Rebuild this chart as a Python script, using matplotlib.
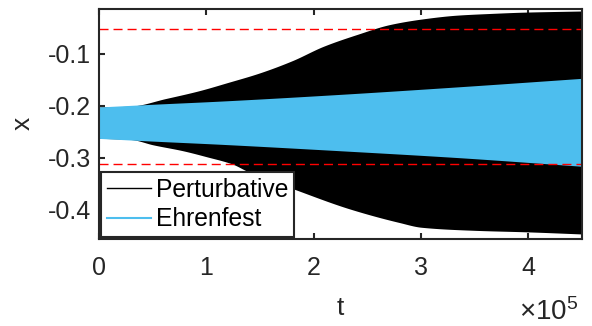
import matplotlib
matplotlib.use("Agg")
import matplotlib.pyplot as plt
from matplotlib.lines import Line2D
import numpy as np

# ---- data ----
# time axis in units of 1e5
t_pert_up = [0, 0.30, 0.62, 0.93, 1.20, 1.49, 1.80, 2.09, 2.40, 2.71, 3.02, 3.33, 3.64, 3.95, 4.5]
pert_up = [-0.2025, -0.2005, -0.186, -0.1710, -0.155, -0.137, -0.113, -0.0853, -0.0627,
           -0.0433, -0.0323, -0.0253, -0.022, -0.0195, -0.0172]
t_pert_lo = [0, 0.30, 0.50, 0.78, 1.00, 1.24, 1.40, 1.81, 2.34, 2.80, 3.00, 3.50, 4.00, 4.5]
pert_lo = [-0.2625, -0.2650, -0.2750, -0.2865, -0.298, -0.312, -0.328, -0.360, -0.399,
           -0.425, -0.434, -0.440, -0.443, -0.447]
t_ehr = [0, 0.5, 1.12, 2.24, 3.36, 4.5]
ehr_up = [-0.2022, -0.197, -0.191, -0.178, -0.1632, -0.147]
ehr_lo = [-0.2628, -0.268, -0.274, -0.2865, -0.300, -0.3165]
ref_levels = [-0.052, -0.3115]
labels = ["Perturbative", "Ehrenfest"]
xticks = [0, 1, 2, 3, 4]
yticks = [-0.4, -0.3, -0.2, -0.1]


def pchip(x, y, xn):
    """Monotone cubic (Fritsch-Carlson) curve through the read points."""
    x = np.asarray(x, float)
    y = np.asarray(y, float)
    h = np.diff(x)
    d = np.diff(y) / h
    m = np.zeros_like(y)
    for k in range(1, len(x) - 1):
        if d[k - 1] * d[k] > 0:
            w1 = 2 * h[k] + h[k - 1]
            w2 = h[k] + 2 * h[k - 1]
            m[k] = (w1 + w2) / (w1 / d[k - 1] + w2 / d[k])
    m[0] = d[0]
    m[-1] = d[-1]
    idx = np.clip(np.searchsorted(x, xn) - 1, 0, len(x) - 2)
    hh = h[idx]
    s = (xn - x[idx]) / hh
    h00 = 2 * s**3 - 3 * s**2 + 1
    h10 = s**3 - 2 * s**2 + s
    h01 = -2 * s**3 + 3 * s**2
    h11 = s**3 - s**2
    return h00 * y[idx] + h10 * hh * m[idx] + h01 * y[idx + 1] + h11 * hh * m[idx + 1]


plt.rcParams['font.family'] = ['Liberation Sans', 'DejaVu Sans']
plt.rcParams['axes.unicode_minus'] = False
plt.rcParams['mathtext.fontset'] = 'custom'
plt.rcParams['mathtext.rm'] = 'Liberation Sans'

W, H = 592, 326
fig = plt.figure(figsize=(W / 100, H / 100), dpi=100)
L, R, T, B = 99, 582, 8.5, 239
ax = fig.add_axes([L / W, (H - B) / H, (R - L) / W, (B - T) / H])

blue = '#4DBEEE'
scale = 1e5
tg = np.linspace(0, 4.5, 600)
up = pchip(t_pert_up, pert_up, tg)
lo = pchip(t_pert_lo, pert_lo, tg)
ax.fill_between(tg * scale, lo, up, color='black', lw=0, zorder=2)
eu = pchip(t_ehr, ehr_up, tg)
el = pchip(t_ehr, ehr_lo, tg)
ax.fill_between(tg * scale, el, eu, color=blue, lw=0, zorder=3)

for lv in ref_levels:
    ax.axhline(lv, color='red', lw=1.0, dashes=(6.5, 3.6), zorder=4)

ax.set_xlim(0, 4.5e5)
ax.set_ylim(-0.4567, -0.0124)
ax.set_xticks([v * scale for v in xticks])
ax.set_xticklabels([str(v) for v in xticks])
ax.set_yticks(yticks)
ax.set_yticklabels([f"{v:.1f}" for v in yticks])

dark = '#262626'
for s in ax.spines.values():
    s.set_linewidth(1.5)
    s.set_color(dark)
    s.set_zorder(6)
ax.tick_params(direction='in', length=4, width=1.5, color=dark, labelcolor=dark,
               labelsize=18, top=True, right=True, pad=6)
ax.tick_params(axis='x', pad=12)

ax.set_xlabel('t', fontsize=19, color=dark, labelpad=12)
ax.set_ylabel('x', fontsize=19, color=dark, labelpad=9)

fig.text(519 / W, 1 - 320 / H, r'$\mathregular{\times 10^{5}}$', fontsize=20,
         color=dark, ha='left', va='baseline')

handles = [Line2D([], [], color='black', lw=1.0), Line2D([], [], color=blue, lw=1.5)]
leg = ax.legend(handles, labels, loc='lower left', bbox_to_anchor=(0.0, 0.0),
                fontsize=17.7, frameon=True, fancybox=False, framealpha=1,
                edgecolor=dark, borderaxespad=0.1, handlelength=1.8,
                handletextpad=0.2, labelspacing=0.22, borderpad=0.22)
leg.get_frame().set_linewidth(1.5)
leg.set_zorder(7)
for txt in leg.get_texts():
    txt.set_color('black')

fig.savefig('out.png', dpi=100)
